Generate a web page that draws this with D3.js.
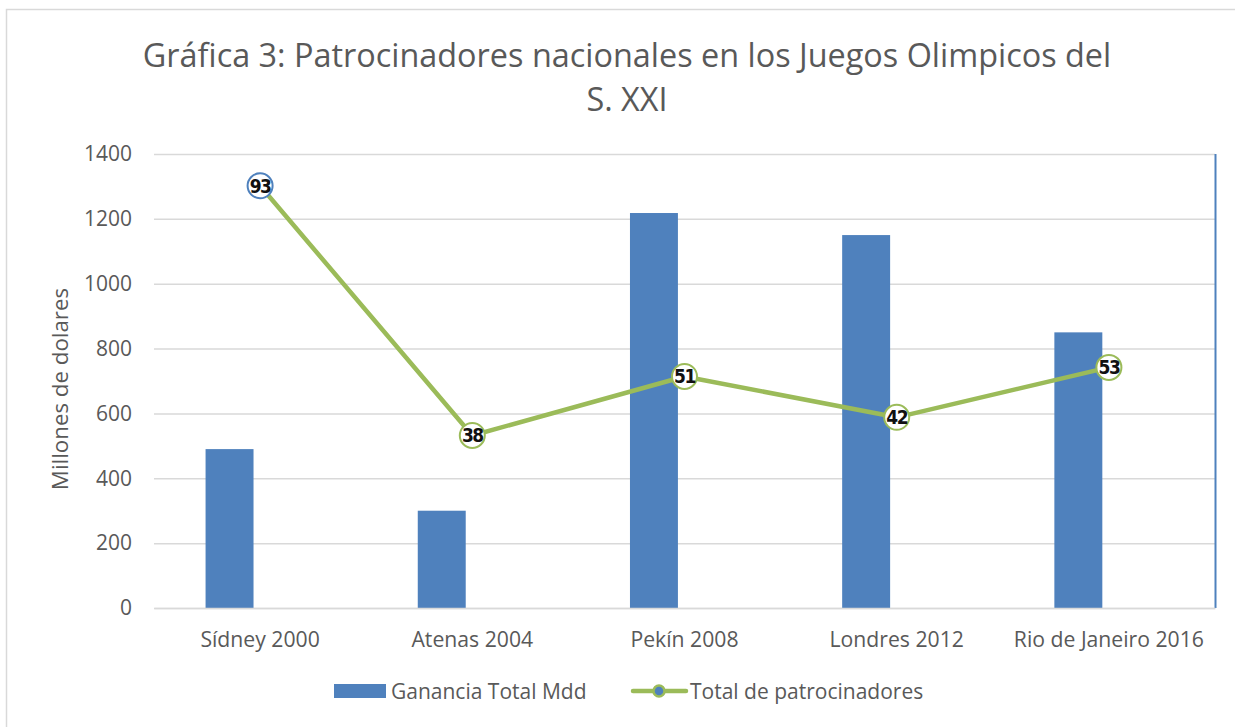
<!DOCTYPE html>
<html>
<head>
<meta charset="utf-8">
<script src="https://cdn.jsdelivr.net/npm/d3@7"></script>
<style>
  body { margin: 0; background: #fff; }
  svg { display: block; font-family: "Open Sans", sans-serif; }
</style>
</head>
<body>
<div id="chart"></div>
<script>
"use strict";

const categories = ["Sídney 2000", "Atenas 2004", "Pekín 2008", "Londres 2012", "Rio de Janeiro 2016"];
const ganancia = [490, 300, 1218, 1150, 850];
const patrocinadores = [93, 38, 51, 42, 53];
const yTicks = [0, 200, 400, 600, 800, 1000, 1200, 1400];

const W = 1235, H = 727;
const margin = { left: 154, right: 20, top: 154, bottom: 119 };
const font = "'Open Sans', sans-serif";

const svg = d3.select("#chart").append("svg").attr("width", W).attr("height", H);

// outer frame
svg.append("rect")
  .attr("x", 6.5).attr("y", 9.5)
  .attr("width", W + 10).attr("height", H + 10)
  .attr("fill", "none").attr("stroke", "#d9d9d9").attr("stroke-width", 1.5);

const x = d3.scaleBand().domain(categories).range([margin.left, W - margin.right]);
const y = d3.scaleLinear().domain([0, 1400]).range([H - margin.bottom, margin.top]);
// line series sits on a hidden secondary axis 0..100
const y2 = d3.scaleLinear().domain([0, 100]).range([H - margin.bottom, margin.top]);

// gridlines
svg.append("g")
  .selectAll("line")
  .data(yTicks)
  .enter()
  .append("line")
  .attr("x1", margin.left).attr("x2", W - margin.right)
  .attr("y1", (d) => y(d) + 0.5).attr("y2", (d) => y(d) + 0.5)
  .attr("stroke", "#d9d9d9").attr("stroke-width", 1.5);

// left axis labels
const yAxis = svg.append("g")
  .attr("transform", `translate(${margin.left - 22},0)`)
  .call(d3.axisLeft(y).tickValues(yTicks).tickFormat(d3.format("d")).tickSize(0).tickPadding(0));
yAxis.select(".domain").remove();
yAxis.selectAll("text")
  .attr("fill", "#595959").attr("font-size", 21)
  .attr("font-family", font);

// secondary axis line on the right
svg.append("line")
  .attr("x1", W - margin.right + 0.5).attr("x2", W - margin.right + 0.5)
  .attr("y1", y2(100)).attr("y2", y2(0))
  .attr("stroke", "#4f81bd").attr("stroke-width", 2);

// bars
const bw = x.bandwidth();
svg.append("g")
  .selectAll("rect")
  .data(ganancia)
  .enter()
  .append("rect")
  .attr("x", (d, i) => x(categories[i]) + bw * 0.243)
  .attr("width", bw * 0.226)
  .attr("y", (d) => y(d))
  .attr("height", (d) => y(0) - y(d))
  .attr("fill", "#4f81bd");

// category axis
const xAxis = svg.append("g")
  .attr("transform", `translate(0,${y(0)})`)
  .call(d3.axisBottom(x).tickSize(0).tickPadding(24));
xAxis.select(".domain").attr("stroke", "#d9d9d9").attr("stroke-width", 1.5);
xAxis.selectAll("text")
  .attr("fill", "#595959").attr("font-size", 21.2)
  .attr("font-family", font);

// line series
const cx = (i) => x(categories[i]) + bw / 2;
const line = d3.line().x((d, i) => cx(i)).y((d) => y2(d));
svg.append("path")
  .datum(patrocinadores)
  .attr("d", line)
  .attr("fill", "none")
  .attr("stroke", "#9bbb59")
  .attr("stroke-width", 4.5)
  .attr("stroke-linejoin", "round");

const marks = svg.append("g")
  .selectAll("g")
  .data(patrocinadores)
  .enter()
  .append("g")
  .attr("transform", (d, i) => `translate(${cx(i)},${y2(d)})`);

marks.append("circle")
  .attr("r", 12.5)
  .attr("fill", "#fff")
  .attr("stroke", (d, i) => (i === 0 ? "#4f81bd" : "#9bbb59"))
  .attr("stroke-width", 2);

marks.append("text")
  .attr("text-anchor", "middle")
  .attr("dy", "0.36em")
  .attr("font-family", "'DejaVu Sans Condensed', 'DejaVu Sans', sans-serif")
  .attr("font-weight", "bold")
  .attr("font-size", 19)
  .attr("letter-spacing", -1.5)
  .attr("fill", "#111")
  .text((d) => d);

// title
const title = svg.append("text")
  .attr("text-anchor", "middle")
  .attr("fill", "#595959")
  .attr("font-size", 32.4)
  .attr("font-family", font);
title.append("tspan").attr("x", 627).attr("y", 67)
  .text("Gráfica 3: Patrocinadores nacionales en los Juegos Olimpicos del");
title.append("tspan").attr("x", 627).attr("y", 111).text("S. XXI");

// y axis title
svg.append("text")
  .attr("transform", "translate(68,389) rotate(-90)")
  .attr("text-anchor", "middle")
  .attr("fill", "#595959")
  .attr("font-size", 22.3)
  .attr("font-family", font)
  .text("Millones de dolares");

// legend
const legend = svg.append("g").attr("font-family", font)
  .attr("font-size", 21).attr("fill", "#595959");
legend.append("rect")
  .attr("x", 334).attr("y", 684).attr("width", 52).attr("height", 14)
  .attr("fill", "#4f81bd");
legend.append("text").attr("x", 391).attr("y", 699).text("Ganancia Total Mdd");
legend.append("line")
  .attr("x1", 633).attr("x2", 686).attr("y1", 691).attr("y2", 691)
  .attr("stroke", "#9bbb59").attr("stroke-width", 4.5)
  .attr("stroke-linecap", "round");
legend.append("circle")
  .attr("cx", 659).attr("cy", 691).attr("r", 5.5)
  .attr("fill", "#4f81bd").attr("stroke", "#9bbb59").attr("stroke-width", 2.5);
legend.append("text").attr("x", 690).attr("y", 699).text("Total de patrocinadores");
</script>
</body>
</html>
